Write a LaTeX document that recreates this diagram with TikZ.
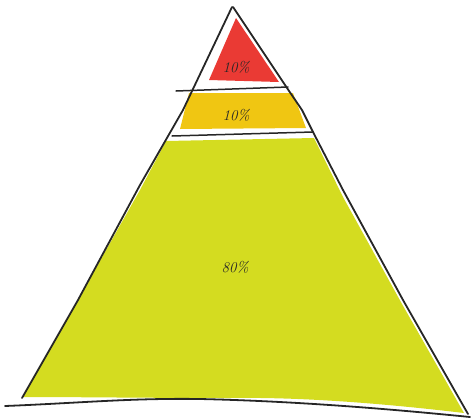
\documentclass[tikz,border=0pt]{standalone}
\usepackage{xcolor}
\usepackage{tikz}

\definecolor{layerred}{RGB}{234,58,52}
\definecolor{layeryellow}{RGB}{240,198,18}
\definecolor{layergreen}{RGB}{212,220,32}

\begin{document}
\begin{tikzpicture}[
    x=1pt, y=-1pt,
    outline/.style={draw=black!85, line width=1.8pt, line cap=round, line join=round},
    sepline/.style={draw=black!85, line width=1.5pt, line cap=round},
    pct/.style={font=\fontsize{15}{17}\selectfont\itshape, text=black!85, inner sep=0pt}
]
    \useasboundingbox (0,0) rectangle (471,418);

    % Layers
    \fill[layerred] (236,18) -- (279,82) -- (209,80) -- cycle;
    \fill[layeryellow] (189,93) -- (293,93) -- (306,128) -- (180,129) -- cycle;
    \fill[layergreen] (166,141) -- (314,138) -- (343,197) -- (402,304) -- (464,413)
        .. controls (380,403) and (300,397) .. (230,398)
        .. controls (150,398) and (80,397) .. (22,397)
        -- (80,296) -- (140,190) -- cycle;

    % Outline
    \draw[outline] (232,7) -- (183,110) -- (140,185) -- (78,300) -- (22,398);
    \draw[outline] (233,7) -- (287,88) -- (302,110) -- (313,132) -- (343,190) -- (403,300) -- (468,414);
    \draw[outline] (5,406) .. controls (80,403) and (130,398) .. (200,399)
        .. controls (290,401) and (380,408) .. (470,417);

    % Separators
    \draw[sepline] (176,91) -- (288,87);
    \draw[sepline] (172,136) -- (313,132);

    % Labels
    \node[pct] (top) at (236,67) {10\%};
    \node[pct] (middle) at (236,115) {10\%};
    \node[pct] (base) at (235,267) {80\%};
\end{tikzpicture}
\end{document}
